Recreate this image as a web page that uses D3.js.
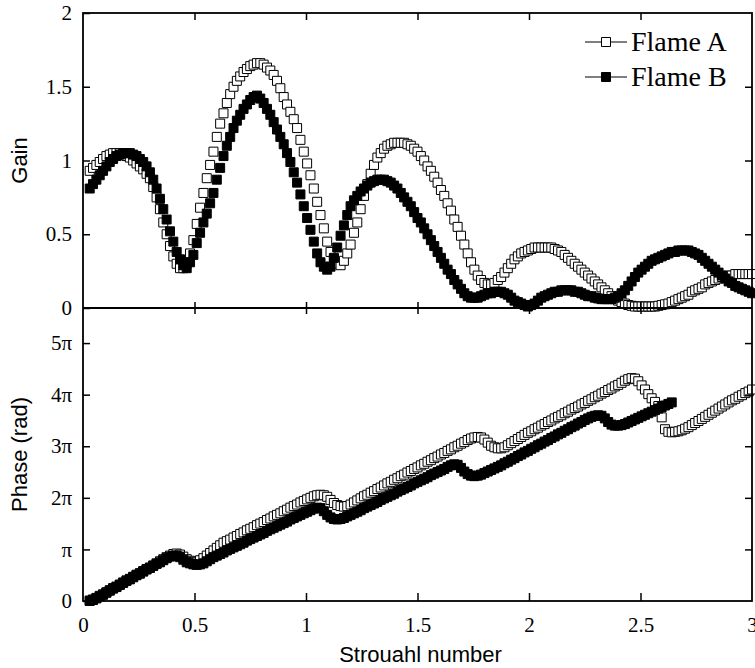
<!DOCTYPE html>
<html>
<head>
<meta charset="utf-8">
<script src="https://cdn.jsdelivr.net/npm/d3@7"></script>
<style>
  body { margin: 0; background: #fff; }
  svg { display: block; }
</style>
</head>
<body>
<svg id="chart" width="755" height="668"></svg>
<script>
// Strouhal numbers of the sampled frequencies
const strouhal = [
  0.03,0.045,0.06,0.075,0.09,0.105,0.12,0.135,0.15,0.165,
  0.18,0.195,0.21,0.225,0.24,0.255,0.27,0.285,0.30,0.315,
  0.33,0.345,0.36,0.375,0.39,0.405,0.42,0.435,0.45,0.465,
  0.48,0.495,0.51,0.525,0.54,0.555,0.57,0.585,0.60,0.615,
  0.63,0.645,0.66,0.675,0.69,0.705,0.72,0.735,0.75,0.765,
  0.78,0.795,0.81,0.825,0.84,0.855,0.87,0.885,0.90,0.915,
  0.93,0.945,0.96,0.975,0.99,1.005,1.02,1.035,1.05,1.065,
  1.08,1.095,1.11,1.125,1.14,1.155,1.17,1.185,1.20,1.215,
  1.23,1.245,1.26,1.275,1.29,1.305,1.32,1.335,1.35,1.365,
  1.38,1.395,1.41,1.425,1.44,1.455,1.47,1.485,1.50,1.515,
  1.53,1.545,1.56,1.575,1.59,1.605,1.62,1.635,1.65,1.665,
  1.68,1.695,1.71,1.725,1.74,1.755,1.77,1.785,1.80,1.815,
  1.83,1.845,1.86,1.875,1.89,1.905,1.92,1.935,1.95,1.965,
  1.98,1.995,2.01,2.025,2.04,2.055,2.07,2.085,2.10,2.115,
  2.13,2.145,2.16,2.175,2.19,2.205,2.22,2.235,2.25,2.265,
  2.28,2.295,2.31,2.325,2.34,2.355,2.37,2.385,2.40,2.415,
  2.43,2.445,2.46,2.475,2.49,2.505,2.52,2.535,2.55,2.565,
  2.58,2.595,2.61,2.625,2.64,2.655,2.67,2.685,2.70,2.715,
  2.73,2.745,2.76,2.775,2.79,2.805,2.82,2.835,2.85,2.865,
  2.88,2.895,2.91,2.925,2.94,2.955,2.97,2.985,3.00
];

// Flame transfer function gain
const gainA = [
  0.93,0.95,0.97,0.99,1.01,1.03,1.04,1.05,1.05,1.05,
  1.04,1.03,1.02,1.00,0.98,0.96,0.94,0.91,0.88,0.82,
  0.75,0.67,0.58,0.50,0.42,0.35,0.30,0.27,0.27,0.30,
  0.37,0.46,0.57,0.68,0.78,0.88,0.97,1.06,1.16,1.25,
  1.32,1.39,1.45,1.50,1.54,1.57,1.60,1.62,1.64,1.65,
  1.66,1.66,1.65,1.63,1.61,1.58,1.54,1.49,1.43,1.38,
  1.33,1.28,1.22,1.14,1.06,0.98,0.90,0.81,0.72,0.63,
  0.54,0.45,0.38,0.33,0.30,0.29,0.32,0.37,0.43,0.51,
  0.58,0.67,0.76,0.84,0.91,0.97,1.02,1.05,1.08,1.10,
  1.11,1.12,1.12,1.12,1.12,1.11,1.10,1.08,1.06,1.03,
  1.00,0.96,0.93,0.89,0.85,0.80,0.76,0.71,0.66,0.60,
  0.55,0.49,0.43,0.37,0.31,0.26,0.22,0.19,0.17,0.16,
  0.16,0.17,0.19,0.21,0.24,0.27,0.30,0.33,0.35,0.37,
  0.38,0.39,0.40,0.41,0.41,0.41,0.41,0.41,0.41,0.40,
  0.39,0.38,0.36,0.34,0.32,0.30,0.28,0.26,0.24,0.22,
  0.20,0.18,0.16,0.14,0.12,0.10,0.08,0.06,0.05,0.04,
  0.03,0.02,0.015,0.01,0.01,0.01,0.01,0.01,0.01,0.01,
  0.015,0.02,0.025,0.03,0.04,0.05,0.06,0.07,0.08,0.09,
  0.11,0.12,0.13,0.14,0.16,0.17,0.18,0.19,0.20,0.21,
  0.21,0.22,0.22,0.23,0.23,0.23,0.23,0.23,0.23
];
const gainB = [
  0.81,0.84,0.87,0.90,0.93,0.96,0.99,1.01,1.03,1.04,
  1.05,1.05,1.05,1.04,1.03,1.01,0.99,0.96,0.92,0.87,
  0.81,0.74,0.67,0.60,0.52,0.45,0.38,0.33,0.29,0.27,
  0.31,0.36,0.44,0.51,0.58,0.64,0.71,0.78,0.87,0.95,
  1.03,1.10,1.16,1.22,1.27,1.31,1.35,1.38,1.41,1.43,
  1.44,1.42,1.39,1.35,1.31,1.26,1.21,1.16,1.11,1.05,
  0.99,0.92,0.85,0.77,0.69,0.61,0.53,0.45,0.37,0.31,
  0.28,0.26,0.28,0.34,0.41,0.49,0.56,0.63,0.69,0.73,
  0.76,0.79,0.81,0.83,0.85,0.86,0.87,0.87,0.87,0.86,
  0.85,0.83,0.81,0.78,0.75,0.72,0.69,0.65,0.61,0.58,
  0.54,0.50,0.46,0.42,0.38,0.34,0.30,0.26,0.23,0.19,
  0.16,0.13,0.10,0.08,0.07,0.07,0.07,0.08,0.09,0.10,
  0.10,0.11,0.11,0.11,0.10,0.09,0.07,0.05,0.04,0.03,
  0.02,0.01,0.02,0.03,0.05,0.07,0.08,0.09,0.10,0.11,
  0.11,0.12,0.12,0.12,0.12,0.11,0.11,0.10,0.09,0.08,
  0.08,0.07,0.065,0.06,0.06,0.06,0.06,0.07,0.08,0.10,
  0.12,0.15,0.18,0.21,0.24,0.26,0.28,0.30,0.32,0.33,
  0.34,0.35,0.36,0.37,0.38,0.38,0.39,0.39,0.39,0.39,
  0.38,0.37,0.36,0.34,0.32,0.30,0.28,0.26,0.24,0.22,
  0.20,0.18,0.17,0.15,0.14,0.13,0.12,0.11,0.10
];

// Phase, in multiples of π
const phaseA = [
  0.01,0.03,0.06,0.10,0.13,0.17,0.21,0.25,0.28,0.32,
  0.36,0.40,0.43,0.47,0.51,0.54,0.58,0.62,0.65,0.69,
  0.73,0.77,0.81,0.85,0.88,0.91,0.92,0.90,0.86,0.81,
  0.78,0.76,0.76,0.79,0.83,0.88,0.93,0.98,1.03,1.08,
  1.13,1.16,1.19,1.23,1.26,1.30,1.33,1.37,1.40,1.43,
  1.47,1.50,1.53,1.57,1.60,1.64,1.67,1.70,1.74,1.77,
  1.81,1.84,1.87,1.91,1.94,1.97,2.00,2.03,2.05,2.06,
  2.05,2.02,1.96,1.90,1.86,1.84,1.83,1.84,1.87,1.91,
  1.95,1.99,2.03,2.06,2.10,2.13,2.17,2.20,2.24,2.28,
  2.31,2.35,2.38,2.42,2.45,2.49,2.52,2.56,2.59,2.63,
  2.66,2.70,2.73,2.77,2.80,2.84,2.87,2.91,2.94,2.98,
  3.01,3.05,3.08,3.12,3.15,3.17,3.18,3.17,3.13,3.07,
  3.01,2.98,2.96,2.96,2.98,3.02,3.06,3.10,3.14,3.18,
  3.22,3.26,3.29,3.33,3.36,3.40,3.43,3.47,3.50,3.54,
  3.57,3.60,3.64,3.67,3.71,3.74,3.77,3.81,3.84,3.88,
  3.91,3.95,3.98,4.02,4.05,4.09,4.12,4.16,4.19,4.23,
  4.27,4.30,4.32,4.31,4.26,4.18,4.10,4.01,3.93,3.86,
  3.78,3.56,3.33,3.28,3.27,3.28,3.29,3.31,3.34,3.37,
  3.41,3.45,3.49,3.53,3.57,3.61,3.65,3.69,3.73,3.77,
  3.81,3.85,3.89,3.92,3.96,3.99,4.03,4.06,4.10
];
const phaseB = [
  0.00,0.02,0.05,0.09,0.12,0.16,0.20,0.24,0.27,0.31,
  0.35,0.39,0.42,0.46,0.50,0.53,0.57,0.61,0.64,0.68,
  0.72,0.75,0.79,0.83,0.86,0.88,0.88,0.85,0.80,0.75,
  0.73,0.71,0.70,0.71,0.73,0.77,0.81,0.85,0.88,0.91,
  0.94,0.98,1.01,1.04,1.07,1.10,1.13,1.17,1.20,1.23,
  1.26,1.29,1.32,1.36,1.39,1.42,1.45,1.48,1.51,1.54,
  1.58,1.61,1.64,1.67,1.70,1.73,1.76,1.79,1.81,1.80,
  1.74,1.67,1.62,1.59,1.58,1.59,1.61,1.64,1.67,1.70,
  1.73,1.76,1.80,1.83,1.86,1.89,1.92,1.96,1.99,2.02,
  2.05,2.08,2.12,2.15,2.18,2.21,2.24,2.28,2.31,2.34,
  2.37,2.40,2.44,2.47,2.50,2.53,2.56,2.60,2.63,2.65,
  2.64,2.58,2.51,2.46,2.43,2.42,2.43,2.45,2.48,2.51,
  2.54,2.57,2.60,2.63,2.67,2.70,2.74,2.77,2.81,2.84,
  2.88,2.91,2.95,2.98,3.02,3.05,3.09,3.12,3.16,3.19,
  3.23,3.26,3.30,3.33,3.37,3.40,3.44,3.47,3.51,3.54,
  3.57,3.59,3.60,3.59,3.54,3.47,3.42,3.40,3.40,3.41,
  3.43,3.46,3.49,3.52,3.55,3.58,3.61,3.64,3.67,3.70,
  3.73,3.76,3.79,3.82,3.85
];

const seriesNames = ["Flame A", "Flame B"];
const gainTicks = [0, 0.5, 1, 1.5, 2];
const gainTickLabels = ["0", "0.5", "1", "1.5", "2"];
const phaseTicks = [0, 1, 2, 3, 4, 5];
const phaseTickLabels = ["0", "\u03c0", "2\u03c0", "3\u03c0", "4\u03c0", "5\u03c0"];
const stTicks = [0, 0.5, 1, 1.5, 2, 2.5, 3];
const stTickLabels = ["0", "0.5", "1", "1.5", "2", "2.5", "3"];

// ---- layout ----
const plotLeft = 83, plotRight = 752;
const gainTop = 13, split = 308, phaseBottom = 601;
const serif = "'Liberation Serif', 'Times New Roman', Times, serif";
const sans = "'Liberation Sans', Arial, Helvetica, sans-serif";

const svg = d3.select("#chart");

const x = d3.scaleLinear().domain([0, 3]).range([plotLeft, plotRight]);
const yGain = d3.scaleLinear().domain([0, 2]).range([split, gainTop]);
const yPhase = d3.scaleLinear().domain([0, 5.68]).range([phaseBottom, split]);

// ---- markers ----
const square = d3.symbol().type(d3.symbolSquare).size(81);

function drawSeries(yScale, values, filled) {
  const pts = values.map((v, i) => [strouhal[i], v]);
  svg.append("g")
    .selectAll("path")
    .data(pts)
    .join("path")
    .attr("d", square)
    .attr("transform", d => `translate(${x(d[0])},${yScale(d[1])})`)
    .attr("fill", filled ? "#000" : "#fff")
    .attr("stroke", "#000")
    .attr("stroke-width", 1);
}

drawSeries(yGain, gainA, false);
drawSeries(yGain, gainB, true);
drawSeries(yPhase, phaseA, false);
drawSeries(yPhase, phaseB, true);

// ---- axes ----
function styleAxis(g, labelled) {
  g.select(".domain").remove();
  g.selectAll(".tick line").attr("stroke", "#000").attr("stroke-width", 1.5);
  g.selectAll(".tick text")
    .attr("fill", "#000")
    .style("font-family", serif)
    .style("font-size", "21px");
  if (!labelled) g.selectAll(".tick text").remove();
}

const inner = stTicks.filter(t => t > 0 && t < 3);

// left: gain
svg.append("g").attr("transform", `translate(${plotLeft},0)`)
  .call(d3.axisLeft(yGain).tickValues(gainTicks)
    .tickFormat((d, i) => gainTickLabels[i]).tickSizeInner(-7).tickSizeOuter(0).tickPadding(11))
  .call(g => styleAxis(g, true));
// left: phase
svg.append("g").attr("transform", `translate(${plotLeft},0)`)
  .call(d3.axisLeft(yPhase).tickValues(phaseTicks)
    .tickFormat((d, i) => phaseTickLabels[i]).tickSizeInner(-7).tickSizeOuter(0).tickPadding(11))
  .call(g => styleAxis(g, true));

// right side ticks
svg.append("g").attr("transform", `translate(${plotRight},0)`)
  .call(d3.axisRight(yGain).tickValues([0.5, 1, 1.5]).tickSizeInner(-7).tickSizeOuter(0))
  .call(g => styleAxis(g, false));
svg.append("g").attr("transform", `translate(${plotRight},0)`)
  .call(d3.axisRight(yPhase).tickValues([1, 2, 3, 4, 5]).tickSizeInner(-7).tickSizeOuter(0))
  .call(g => styleAxis(g, false));

// top frame ticks
svg.append("g").attr("transform", `translate(0,${gainTop})`)
  .call(d3.axisTop(x).tickValues(inner).tickSizeInner(-7).tickSizeOuter(0))
  .call(g => styleAxis(g, false));
// split line ticks, both directions
svg.append("g").attr("transform", `translate(0,${split})`)
  .call(d3.axisTop(x).tickValues(inner).tickSizeInner(6).tickSizeOuter(0))
  .call(g => styleAxis(g, false));
svg.append("g").attr("transform", `translate(0,${split})`)
  .call(d3.axisBottom(x).tickValues(inner).tickSizeInner(6).tickSizeOuter(0))
  .call(g => styleAxis(g, false));
// bottom axis with labels
svg.append("g").attr("transform", `translate(0,${phaseBottom})`)
  .call(d3.axisBottom(x).tickValues(stTicks)
    .tickFormat((d, i) => stTickLabels[i]).tickSizeInner(-8).tickSizeOuter(0).tickPadding(16))
  .call(g => styleAxis(g, true))
  .call(g => g.selectAll(".tick").filter(d => d === 0 || d === 3).select("line").remove());

// frame
svg.append("rect")
  .attr("x", plotLeft).attr("y", gainTop)
  .attr("width", plotRight - plotLeft).attr("height", phaseBottom - gainTop)
  .attr("fill", "none").attr("stroke", "#000").attr("stroke-width", 1.8);
svg.append("line")
  .attr("x1", plotLeft).attr("x2", plotRight)
  .attr("y1", split).attr("y2", split)
  .attr("stroke", "#000").attr("stroke-width", 1.8);

// ---- axis titles ----
svg.append("text")
  .attr("transform", `translate(27,${(gainTop + split) / 2}) rotate(-90)`)
  .attr("text-anchor", "middle")
  .style("font-family", sans).style("font-size", "22px")
  .text("Gain");
svg.append("text")
  .attr("transform", `translate(27,${(split + phaseBottom) / 2}) rotate(-90)`)
  .attr("text-anchor", "middle")
  .style("font-family", sans).style("font-size", "22px")
  .text("Phase (rad)");
svg.append("text")
  .attr("x", (plotLeft + plotRight) / 2 + 3).attr("y", 662)
  .attr("text-anchor", "middle")
  .style("font-family", sans).style("font-size", "22px")
  .text("Strouahl number");

// ---- legend ----
const legendRows = [42, 77];
seriesNames.forEach((name, i) => {
  const y = legendRows[i];
  const g = svg.append("g");
  g.append("line")
    .attr("x1", 585).attr("x2", 627).attr("y1", y).attr("y2", y)
    .attr("stroke", "#000").attr("stroke-width", 1.2);
  g.append("path")
    .attr("d", square)
    .attr("transform", `translate(606,${y})`)
    .attr("fill", i === 0 ? "#fff" : "#000")
    .attr("stroke", "#000").attr("stroke-width", 1);
  g.append("text")
    .attr("x", 631).attr("y", y + 9)
    .style("font-family", serif).style("font-size", "28px")
    .text(name);
});
</script>
</body>
</html>
